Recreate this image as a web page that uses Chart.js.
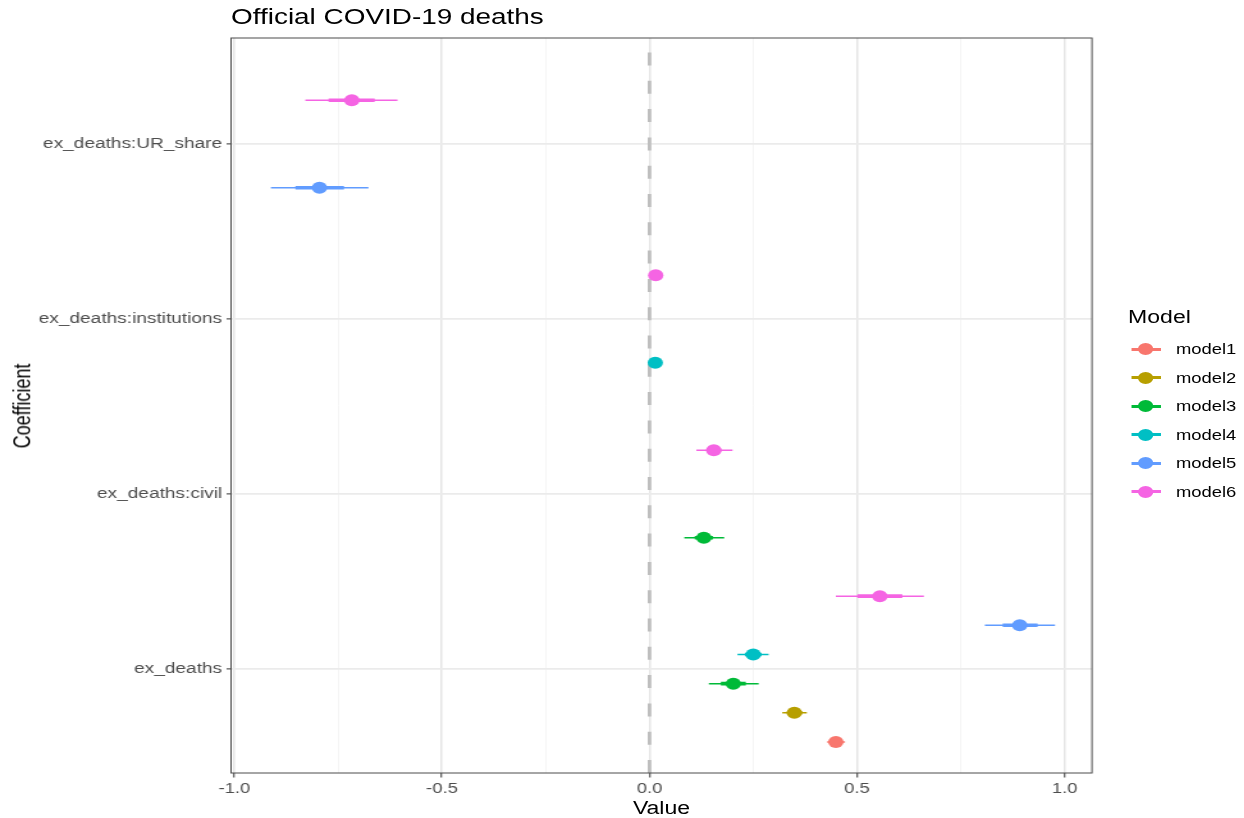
<!DOCTYPE html>
<html>
<head>
<meta charset="utf-8">
<title>Official COVID-19 deaths</title>
<script src="https://cdn.jsdelivr.net/npm/chart.js@4.4.1/dist/chart.umd.min.js"></script>
<style>
  html, body { margin: 0; padding: 0; background: #fff; overflow: hidden; }
  /* the reference is a horizontally stretched ggplot export, so draw narrow and stretch */
  #stage {
    position: absolute; left: 0; top: 0; width: 972px; height: 818px;
    transform: scaleX(1.28); transform-origin: 0 0;
    font-family: "Liberation Sans", Arial, sans-serif;
  }
  #plot { position: absolute; left: 0; top: 0; width: 972px; height: 818px; }
  .lbl { position: absolute; white-space: nowrap; line-height: 1; color: #000; }
  #title { left: 180.5px; top: 6.2px; font-size: 21.8px; }
  #xtitle { left: 180.5px; width: 672.6px; text-align: center; top: 799px; font-size: 18px; }
  #ytitle { left: 18px; top: 405.5px; font-size: 18px; transform: translate(-50%, -50%) rotate(-90deg); }
  #ltitle { left: 881.3px; top: 308px; font-size: 18px; }
  .key-line { position: absolute; left: 883.6px; width: 23.4px; height: 3.4px; }
  .key-dot { position: absolute; left: 889.1px; width: 12px; height: 12px; border-radius: 50%; }
  .key-text { position: absolute; left: 918.7px; font-size: 14.4px; line-height: 1; color: #000; white-space: nowrap; }
</style>
</head>
<body>
<div id="stage">
  <div id="plot"><canvas id="chart"></canvas></div>
  <div class="lbl" id="title">Official COVID-19 deaths</div>
  <div class="lbl" id="xtitle">Value</div>
  <div class="lbl" id="ytitle">Coefficient</div>
  <div class="lbl" id="ltitle">Model</div>
  <div id="legend"></div>
</div>
<script>
// categories (bottom to top) and models
const coefficients = ['ex_deaths', 'ex_deaths:civil', 'ex_deaths:institutions', 'ex_deaths:UR_share'];
const models = ['model1', 'model2', 'model3', 'model4', 'model5', 'model6'];
const modelColors = ['#F8766D', '#B79F00', '#00BA38', '#00BFC4', '#619CFF', '#F564E3'];
const xTicks = [-1, -0.75, -0.5, -0.25, 0, 0.25, 0.5, 0.75, 1];

// one row per estimated coefficient
const rowModel = ['model1', 'model2', 'model3', 'model4', 'model5', 'model6',
                  'model3', 'model6',
                  'model4', 'model6',
                  'model5', 'model6'];
const rowTerm = ['ex_deaths', 'ex_deaths', 'ex_deaths', 'ex_deaths', 'ex_deaths', 'ex_deaths',
                 'ex_deaths:civil', 'ex_deaths:civil',
                 'ex_deaths:institutions', 'ex_deaths:institutions',
                 'ex_deaths:UR_share', 'ex_deaths:UR_share'];
const estimate   = [0.449, 0.349, 0.202, 0.250, 0.892, 0.555, 0.131, 0.155, 0.014, 0.015, -0.795, -0.717];
const outerLow   = [0.428, 0.320, 0.143, 0.212, 0.808, 0.449, 0.084, 0.113, 0.010, 0.011, -0.912, -0.829];
const outerHigh  = [0.471, 0.379, 0.263, 0.287, 0.977, 0.661, 0.180, 0.200, 0.018, 0.019, -0.677, -0.607];
const innerLow   = [0.436, 0.331, 0.172, 0.230, 0.851, 0.501, 0.109, 0.137, 0.012, 0.013, -0.853, -0.773];
const innerHigh  = [0.463, 0.368, 0.232, 0.270, 0.935, 0.609, 0.153, 0.173, 0.016, 0.017, -0.736, -0.662];

// dodge rows within each coefficient (width 1, like position_dodge)
function dodgedY(i) {
  const term = rowTerm[i];
  const inTerm = rowModel.filter((m, j) => rowTerm[j] === term)
    .sort((a, b) => models.indexOf(a) - models.indexOf(b));
  const n = inTerm.length;
  const k = inTerm.indexOf(rowModel[i]);
  return coefficients.indexOf(term) + 1 + (k - (n - 1) / 2) / n;
}
const rowY = rowTerm.map((t, i) => dodgedY(i));

const isMajor = (v) => Math.abs(v * 2 - Math.round(v * 2)) < 1e-9;

const datasets = models.map((m, mi) => ({
  label: m,
  data: rowModel.map((rm, i) => rm === m ? { x: estimate[i], y: rowY[i] } : null).filter(Boolean),
  backgroundColor: modelColors[mi],
  borderWidth: 0,
  pointRadius: 6,
  pointHoverRadius: 6
}));

// zero line, interval segments and panel border, all placed through the scales
const pointrangePlugin = {
  id: 'pointrange',
  beforeDatasetsDraw(chart) {
    const { ctx, chartArea: a, scales: { x, y } } = chart;
    ctx.save();
    ctx.beginPath();
    ctx.rect(a.left, a.top, a.width, a.height);
    ctx.clip();

    // dashed reference line at 0 (drawn bottom-up like ggplot)
    const x0 = x.getPixelForValue(0);
    ctx.strokeStyle = '#bebebe';
    ctx.lineWidth = 2.8;
    ctx.lineCap = 'butt';
    ctx.setLineDash([13, 15.3]);
    ctx.beginPath();
    ctx.moveTo(x0, y.getPixelForValue(y.min));
    ctx.lineTo(x0, y.getPixelForValue(y.max));
    ctx.stroke();
    ctx.setLineDash([]);

    rowModel.forEach((m, i) => {
      const color = modelColors[models.indexOf(m)];
      const py = y.getPixelForValue(rowY[i]);
      ctx.strokeStyle = color;
      ctx.lineWidth = 1.5;
      ctx.beginPath();
      ctx.moveTo(x.getPixelForValue(outerLow[i]), py);
      ctx.lineTo(x.getPixelForValue(outerHigh[i]), py);
      ctx.stroke();
      ctx.lineWidth = 3.6;
      ctx.beginPath();
      ctx.moveTo(x.getPixelForValue(innerLow[i]), py);
      ctx.lineTo(x.getPixelForValue(innerHigh[i]), py);
      ctx.stroke();
    });
    ctx.restore();
  },
  afterDatasetsDraw(chart) {
    const { ctx, chartArea: a } = chart;
    ctx.save();
    ctx.strokeStyle = '#4d4d4d';
    ctx.lineWidth = 1;
    ctx.strokeRect(a.left, a.top, a.width, a.height);
    ctx.restore();
  }
};

const tickFont = { family: '"Liberation Sans", Arial, sans-serif', size: 14.4 };

new Chart(document.getElementById('chart'), {
  type: 'scatter',
  data: { datasets },
  plugins: [pointrangePlugin],
  options: {
    responsive: true,
    maintainAspectRatio: false,
    animation: false,
    layout: { padding: { top: 38, right: 118.9, left: 0, bottom: 0 } },
    plugins: {
      legend: { display: false },
      tooltip: { enabled: false },
      title: { display: false }
    },
    scales: {
      x: {
        type: 'linear',
        min: -1.008,
        max: 1.066,
        afterBuildTicks: (s) => { s.ticks = xTicks.map(v => ({ value: v })); },
        afterFit: (s) => { s.height = 45; },
        border: { display: false },
        grid: {
          color: (c) => isMajor(c.tick.value) ? '#e5e5e5' : '#f2f2f2',
          lineWidth: (c) => isMajor(c.tick.value) ? 1.5 : 0.8,
          drawTicks: true,
          tickLength: 4.5,
          tickWidth: 1,
          tickColor: (c) => isMajor(c.tick.value) ? '#333333' : 'rgba(0,0,0,0)'
        },
        ticks: {
          autoSkip: false,
          maxRotation: 0,
          padding: 3,
          color: '#4d4d4d',
          font: tickFont,
          callback: (v) => isMajor(v) ? Number(v).toFixed(1) : ''
        }
      },
      y: {
        type: 'linear',
        min: 0.406,
        max: 4.606,
        afterBuildTicks: (s) => { s.ticks = coefficients.map((c, i) => ({ value: i + 1 })); },
        afterFit: (s) => { s.width = 180.5; },
        border: { display: false },
        grid: {
          color: '#ebebeb',
          lineWidth: 1.8,
          drawTicks: true,
          tickLength: 3.5,
          tickWidth: 1,
          tickColor: '#333333'
        },
        ticks: {
          autoSkip: false,
          padding: 3.5,
          color: '#4d4d4d',
          font: { family: '"Liberation Sans", Arial, sans-serif', size: 14.9 },
          callback: (v) => coefficients[Math.round(v) - 1]
        }
      }
    }
  }
});

// legend on the right: line through dot, like the pointrange key
const legend = document.getElementById('legend');
models.forEach((m, i) => {
  const cy = 349.3 + 28.5 * i;
  const line = document.createElement('div');
  line.className = 'key-line';
  line.style.top = (cy - 1.7) + 'px';
  line.style.background = modelColors[i];
  const dot = document.createElement('div');
  dot.className = 'key-dot';
  dot.style.top = (cy - 6) + 'px';
  dot.style.background = modelColors[i];
  const text = document.createElement('div');
  text.className = 'key-text';
  text.style.top = (cy - 7) + 'px';
  text.textContent = m;
  legend.append(line, dot, text);
});
</script>
</body>
</html>
